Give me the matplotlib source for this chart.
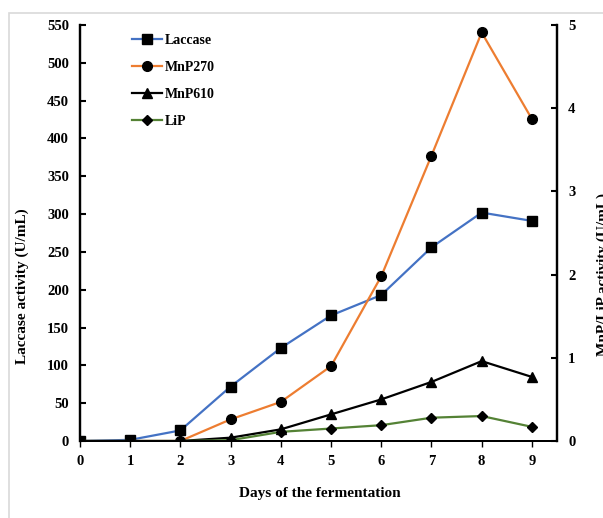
import matplotlib.pyplot as plt
from matplotlib.patches import Rectangle

plt.rcParams['font.family'] = ['Liberation Serif', 'DejaVu Serif']
plt.rcParams['font.weight'] = 'bold'

# 발효 일수
days = [0, 1, 2, 3, 4, 5, 6, 7, 8, 9]
# 왼쪽 축 (U/mL)
laccase = [0, 1.5, 14, 72, 123, 166, 193, 256, 302, 291]
# 오른쪽 축 (U/mL)
mnp270 = [0, 0, 0, 0.26, 0.47, 0.90, 1.98, 3.43, 4.91, 3.87]
mnp610 = [0, 0, 0, 0.04, 0.14, 0.32, 0.50, 0.71, 0.96, 0.77]
lip = [0, 0, 0, 0.01, 0.11, 0.15, 0.19, 0.28, 0.30, 0.17]

fig = plt.figure(figsize=(6.03, 5.18), dpi=100)
# 바깥 회색 테두리 (오른쪽/아래는 그림 밖으로)
fig.patches.append(Rectangle((9 / 603, -0.1), 1.2, 1.1 - 13 / 518, transform=fig.transFigure,
                             fill=False, edgecolor='#d9d9d9', linewidth=1.2))

ax = fig.add_axes([80 / 603, 1 - 441 / 518, (557 - 80) / 603, (441 - 25) / 518])
ax2 = ax.twinx()

l1, = ax.plot(days, laccase, color='#4472C4', lw=1.6, marker='s', ms=7,
              mfc='black', mec='black', label='Laccase', zorder=3)
l2, = ax2.plot(days, mnp270, color='#ED7D31', lw=1.6, marker='o', ms=7,
               mfc='black', mec='black', label='MnP270')
l3, = ax2.plot(days, mnp610, color='black', lw=1.6, marker='^', ms=7,
               mfc='black', mec='black', label='MnP610')
l4, = ax2.plot(days, lip, color='#548235', lw=1.6, marker='D', ms=5.5,
               mfc='black', mec='black', label='LiP')

ax.set_xlim(0, 9.5)
ax.set_ylim(0, 550)
ax2.set_ylim(0, 5)
ax.set_xticks(days)
ax.set_yticks(range(0, 551, 50))
ax2.set_yticks([0, 1, 2, 3, 4, 5])

for a in (ax, ax2):
    a.spines['top'].set_visible(False)
    a.spines['left'].set_linewidth(1.6)
    a.spines['right'].set_linewidth(1.6)
    a.spines['bottom'].set_linewidth(1.4)
ax.tick_params(axis='y', direction='in', length=4, width=1.5, labelsize=10.5, pad=8)
ax.tick_params(axis='x', direction='out', length=4, width=1, labelsize=10.5, pad=6)
ax2.tick_params(axis='y', direction='in', length=4, width=1.5, labelsize=10.5, pad=8)
for lab in ax.get_xticklabels() + ax.get_yticklabels() + ax2.get_yticklabels():
    lab.set_fontweight('bold')

fig.text(22 / 603, 1 - 286 / 518, 'Laccase activity (U/mL)', rotation=90,
         ha='center', va='center', fontsize=11, fontweight='bold')
fig.text(597 / 603, 1 - 275 / 518, 'MnP/LiP activity (U/mL)', rotation=90,
         ha='left', va='center', fontsize=11, fontweight='bold')
fig.text(320 / 603, 1 - 493 / 518, 'Days of the fermentation',
         ha='center', va='center', fontsize=11, fontweight='bold')

ax.legend(handles=[l1, l2, l3, l4], loc='upper left', bbox_to_anchor=(0.082, 1.008),
          frameon=False, labelspacing=1.0, handlelength=2.2, handletextpad=0.2,
          prop={'family': 'Liberation Serif', 'weight': 'bold', 'size': 10})

fig.savefig('out.png', dpi=100)
